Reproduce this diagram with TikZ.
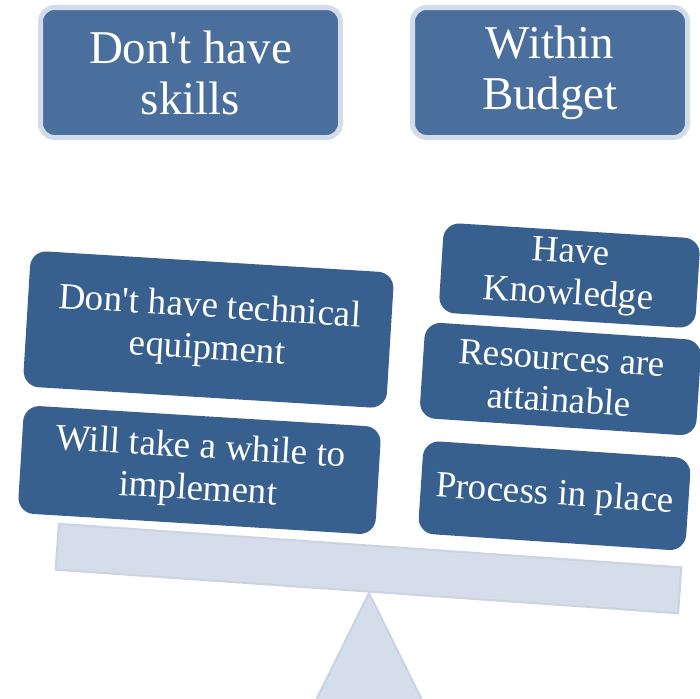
\documentclass[tikz,border=0pt]{standalone}
\usepackage{fontspec}
\setmainfont{Liberation Serif}
\tikzset{
    head/.style={draw=headline, line width=2.5pt, fill=headfill, rounded corners=7pt, text=white, align=center, inner sep=0pt, font=\fontsize{23.5}{25.5}\selectfont},
    weight/.style={fill=boxfill, rounded corners=8pt, text=white, align=center, inner sep=0pt, font=\fontsize{18.5}{21}\selectfont},
    plank/.style={draw=standline, line width=1pt, fill=standfill, inner sep=0pt}
}
\begin{document}
\begin{tikzpicture}[x=0.5pt,y=-0.5pt]
    \definecolor{headfill}{RGB}{74,111,156}
    \definecolor{headline}{RGB}{212,219,234}
    \definecolor{boxfill}{RGB}{55,96,143}
    \definecolor{standfill}{RGB}{213,220,234}
    \definecolor{standline}{RGB}{203,211,228}
    % page
    \useasboundingbox (0,0) rectangle (700,698);
    % headers
    \node[head, minimum width=150pt, minimum height=65pt] (skills) at (190.5,72.5) {Don\textquotesingle t have\\skills};
    \node[head, minimum width=137.5pt, minimum height=65pt] (budget) at (550,72.5) {Within\\Budget};
    % stand
    \coordinate (pivot) at (369,593);
    \draw[plank] (pivot) -- (315,702) -- (423,702) -- cycle;
    \node[plank, rotate=-4, minimum width=312pt, minimum height=23pt] (beam) at (368.5,568.5) {};
    % left pan
    \node[weight, rotate=-3.5, minimum width=182pt, minimum height=68pt] (equip) at (208.5,329.5) {Don\textquotesingle t have technical\\equipment};
    \node[weight, rotate=-3.5, minimum width=179pt, minimum height=54pt] (implement) at (199.5,470) {Will take a while to\\implement};
    % right pan
    \node[weight, rotate=-3.6, minimum width=128.5pt, minimum height=45pt] (knowledge) at (569.5,275.5) {Have\\Knowledge};
    \node[weight, rotate=-3.8, minimum width=138.5pt, minimum height=48pt] (resources) at (560.5,379) {Resources are\\attainable};
    \node[weight, rotate=-3.8, minimum width=134pt, minimum height=46.5pt] (process) at (554.5,495.75) {Process in place};
\end{tikzpicture}
\end{document}
